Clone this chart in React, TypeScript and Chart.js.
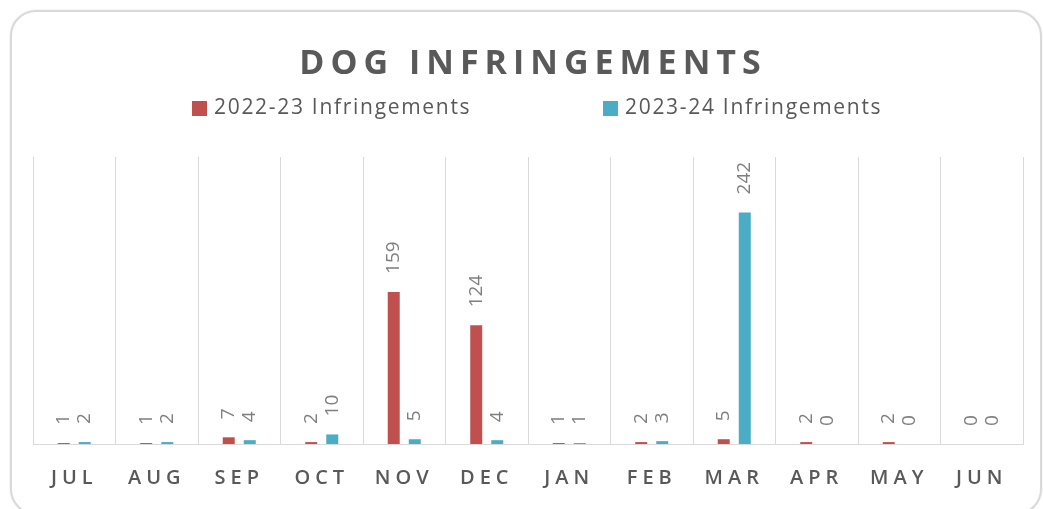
import React, { useEffect, useRef } from "react";
import { Chart, registerables } from "chart.js";

Chart.register(...registerables);

const TITLE = "DOG INFRINGEMENTS";
const MONTHS = ["JUL", "AUG", "SEP", "OCT", "NOV", "DEC", "JAN", "FEB", "MAR", "APR", "MAY", "JUN"];
const SERIES_A_LABEL = "2022-23 Infringements";
const SERIES_B_LABEL = "2023-24 Infringements";
const SERIES_A = [1, 1, 7, 2, 159, 124, 1, 2, 5, 2, 2, 0];
const SERIES_B = [2, 2, 4, 10, 5, 4, 1, 3, 242, 0, 0, 0];
const COLOR_A = "#C0504D";
const COLOR_B = "#4BACC6";
const Y_MAX = 300;

const TEXT = "#595959";
const FONT = "'Open Sans', 'DejaVu Sans', sans-serif";

const decorPlugin = {
  id: "decor",
  afterDatasetsDraw(chart: any) {
    const ctx = chart.ctx as CanvasRenderingContext2D;
    ctx.save();
    (ctx as any).letterSpacing = "0px";
    ctx.font = `19px ${FONT}`;
    ctx.fillStyle = "#7f7f7f";
    ctx.textAlign = "left";
    ctx.textBaseline = "middle";
    chart.data.datasets.forEach((ds: any, di: number) => {
      const meta = chart.getDatasetMeta(di);
      meta.data.forEach((bar: any, i: number) => {
        const v = ds.data[i];
        ctx.save();
        ctx.translate(bar.x, bar.y - 18);
        ctx.rotate(-Math.PI / 2);
        ctx.fillText(String(v), 0, 0);
        ctx.restore();
      });
    });
    ctx.restore();
    // letter spacing for x tick labels drawn after datasets (z = 1)
    (ctx as any).letterSpacing = "5px";
  },
  afterDraw(chart: any) {
    const ctx = chart.ctx as CanvasRenderingContext2D;
    (ctx as any).letterSpacing = "0px";
    ctx.save();
    // title
    (ctx as any).letterSpacing = "6px";
    ctx.font = `bold 34px ${FONT}`;
    ctx.fillStyle = TEXT;
    ctx.textAlign = "center";
    ctx.textBaseline = "alphabetic";
    ctx.fillText(TITLE, 533, 74);
    // legend
    (ctx as any).letterSpacing = "1.7px";
    ctx.font = `21px ${FONT}`;
    ctx.textAlign = "left";
    ctx.textBaseline = "middle";
    const items = [
      { label: SERIES_A_LABEL, color: COLOR_A, x: 192 },
      { label: SERIES_B_LABEL, color: COLOR_B, x: 603 },
    ];
    items.forEach((it) => {
      ctx.fillStyle = it.color;
      ctx.fillRect(it.x, 101, 15, 15);
      ctx.fillStyle = TEXT;
      ctx.fillText(it.label, it.x + 22, 108);
    });
    ctx.restore();
    (ctx as any).letterSpacing = "0px";
  },
};

export default function App() {
  const ref = useRef<HTMLCanvasElement | null>(null);
  useEffect(() => {
    if (!ref.current) return;
    const chart = new Chart(ref.current, {
      type: "bar",
      data: {
        labels: MONTHS,
        datasets: [
          { label: SERIES_A_LABEL, data: SERIES_A, backgroundColor: COLOR_A, barPercentage: 0.57, categoryPercentage: 0.51 },
          { label: SERIES_B_LABEL, data: SERIES_B, backgroundColor: COLOR_B, barPercentage: 0.57, categoryPercentage: 0.51 },
        ],
      },
      options: {
        animation: false,
        responsive: false,
        maintainAspectRatio: false,
        layout: { padding: { left: 33, right: 20, top: 157, bottom: 0 } },
        plugins: {
          legend: { display: false },
          title: { display: false },
          tooltip: { enabled: false },
        },
        scales: {
          x: {
            afterFit: (s: any) => {
              s.height = 65;
            },
            grid: { display: true, color: "#d9d9d9", lineWidth: 1, drawTicks: false, offset: true },
            border: { display: true, color: "#d9d9d9", width: 1 },
            ticks: {
              z: 1,
              padding: 22,
              color: TEXT,
              font: { family: FONT, size: 20, weight: "600" as any },
              maxRotation: 0,
              autoSkip: false,
            },
          },
          y: {
            display: false,
            min: 0,
            max: Y_MAX,
            grid: { display: false },
          },
        },
      },
      plugins: [decorPlugin],
    });
    return () => chart.destroy();
  }, []);

  return (
    <div style={{ position: "fixed", left: 0, top: 0, width: 1043, height: 509, overflow: "hidden", background: "#fff" }}>
      <div
        style={{
          position: "absolute",
          left: 10,
          top: 10,
          width: 1032,
          height: 505,
          border: "2px solid #d9d9d9",
          borderRadius: 26,
          boxSizing: "border-box",
          boxShadow: "0 0 2px rgba(0,0,0,0.12)",
        }}
      />
      <canvas ref={ref} width={1043} height={509} style={{ position: "absolute", left: 0, top: 0, width: 1043, height: 509 }} />
    </div>
  );
}
